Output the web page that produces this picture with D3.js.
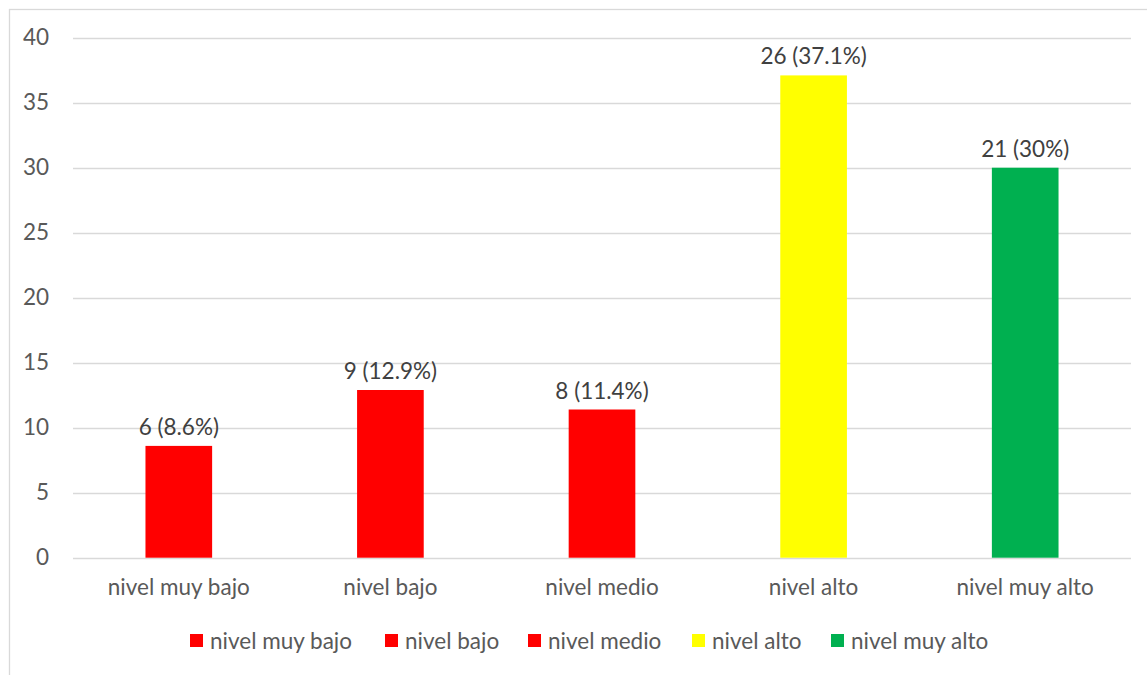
<!DOCTYPE html>
<html>
<head>
<meta charset="utf-8">
<script src="https://cdn.jsdelivr.net/npm/d3@7"></script>
<style>
  html, body { margin: 0; padding: 0; background: #fff; }
  svg { display: block; font-family: Lato, "Open Sans", sans-serif; }
</style>
</head>
<body>
<svg id="chart" width="1147" height="675"></svg>
<script>
const categories = ["nivel muy bajo", "nivel bajo", "nivel medio", "nivel alto", "nivel muy alto"];
const counts = [6, 9, 8, 26, 21];
const percents = [8.6, 12.9, 11.4, 37.1, 30];
const colors = ["#FF0000", "#FF0000", "#FF0000", "#FFFF00", "#00B050"];
const yTicks = [0, 5, 10, 15, 20, 25, 30, 35, 40];

const svg = d3.select("#chart");
const W = 1147, H = 675;
const FS = "22.5px";

// chart border
svg.append("rect")
  .attr("x", 9.5).attr("y", 9.5)
  .attr("width", W + 20).attr("height", H + 20)
  .attr("fill", "none").attr("stroke", "#d9d9d9").attr("stroke-width", 1.3);

const x = d3.scaleBand()
  .domain(categories)
  .range([73, 1131])
  .paddingInner(0.685)
  .paddingOuter(0.3425);

const y = d3.scaleLinear().domain([0, 40]).range([557.7, 37.7]);

// gridlines
svg.append("g")
  .selectAll("line")
  .data(yTicks)
  .join("line")
  .attr("x1", 73).attr("x2", 1131)
  .attr("y1", d => Math.round(y(d)) + 0.5)
  .attr("y2", d => Math.round(y(d)) + 0.5)
  .attr("stroke", "#d9d9d9").attr("stroke-width", 1.3);

// y axis labels
const yAxis = d3.axisLeft(y).tickValues(yTicks).tickSize(0).tickPadding(0);
const yg = svg.append("g").attr("transform", "translate(49,0)").call(yAxis);
yg.select(".domain").remove();
yg.selectAll("text")
  .attr("fill", "#595959")
  .style("font-size", FS)
  .style("font-family", "Lato, sans-serif");

// x axis labels
const xAxis = d3.axisBottom(x).tickSize(0).tickPadding(0);
const xg = svg.append("g").attr("transform", "translate(0,579)").call(xAxis);
xg.select(".domain").remove();
xg.selectAll("text")
  .attr("fill", "#595959")
  .style("font-size", FS)
  .style("font-family", "Lato, sans-serif");

// bars
svg.append("g")
  .selectAll("rect")
  .data(categories)
  .join("rect")
  .attr("x", d => x(d))
  .attr("width", x.bandwidth())
  .attr("y", (d, i) => y(percents[i]))
  .attr("height", (d, i) => y(0) - y(percents[i]))
  .attr("fill", (d, i) => colors[i]);

// data labels
svg.append("g")
  .selectAll("text")
  .data(categories)
  .join("text")
  .attr("x", d => x(d) + x.bandwidth() / 2)
  .attr("y", (d, i) => y(percents[i]) - 11)
  .attr("text-anchor", "middle")
  .attr("fill", "#404040")
  .style("font-size", FS)
  .text((d, i) => `${counts[i]} (${percents[i]}%)`);

// legend
const legendX = [190, 385, 528, 692, 831];
const lg = svg.append("g");
const items = lg.selectAll("g")
  .data(categories)
  .join("g")
  .attr("transform", (d, i) => `translate(${legendX[i]},634)`);
items.append("rect")
  .attr("width", 13).attr("height", 13)
  .attr("fill", (d, i) => colors[i]);
items.append("text")
  .attr("x", 20).attr("y", 14.5)
  .attr("fill", "#595959")
  .style("font-size", FS)
  .text(d => d);
</script>
</body>
</html>
